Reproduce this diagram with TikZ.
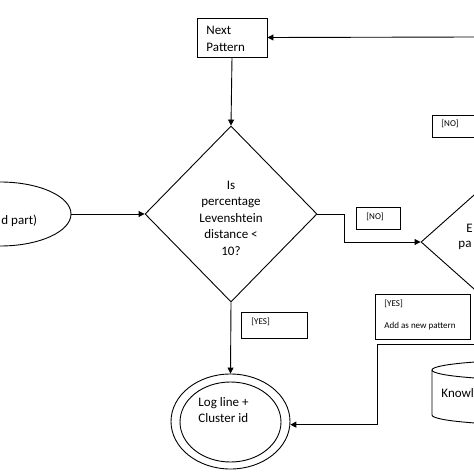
\documentclass[tikz,border=0pt]{standalone}
\usepackage{fontspec}
\setmainfont{Carlito}
\usetikzlibrary{shapes.geometric,arrows.meta}

\begin{document}
\begin{tikzpicture}[x=1pt,y=-1pt,line width=0.9pt,
    box/.style={draw,rectangle,inner sep=0pt},
    tag/.style={font=\fontsize{9}{11}\selectfont,inner sep=0pt,anchor=west},
    txt/.style={font=\fontsize{13}{16.5}\selectfont,inner sep=0pt},
    flow/.style={-{Triangle[length=6pt,width=6pt]}}]
  \useasboundingbox (0,0) rectangle (474,474);
  \clip (0,0) rectangle (474,474);
  \draw
    (232,37.5) node[box,minimum width=70pt,minimum height=39pt] (next){}
    (231,214) node[draw,diamond,inner sep=0pt,minimum width=172pt,minimum height=176pt] (lev){}
    (511,242) node[draw,diamond,inner sep=0pt,minimum width=180pt,minimum height=160pt] (exist){}
    (0,214) node[draw,ellipse,inner sep=0pt,minimum width=142pt,minimum height=64pt] (input){}
    (230.5,421.5) node[draw,ellipse,inner sep=0pt,minimum width=119pt,minimum height=95pt] (out){}
    (230.5,422) node[draw,ellipse,inner sep=0pt,minimum width=101pt,minimum height=80pt] (outin){}
    (378,218) node[box,minimum width=44pt,minimum height=22pt] (nobox){}
    (462,126) node[box,minimum width=60pt,minimum height=22pt] (notop){}
    (274,325) node[box,minimum width=66pt,minimum height=26pt] (yesbox){}
    (422.5,316.5) node[box,minimum width=95pt,minimum height=45pt] (addbox){};
  % knowledge base cylinder, cut by the edge
  \draw (540,370) ellipse [x radius=108, y radius=10];
  \draw (432,370) -- (432,415) arc [start angle=180, end angle=0, x radius=108, y radius=10];
  % texts
  \node[txt,align=left,anchor=west] (nexttxt) at (206,39) {Next\\Pattern};
  \node[txt,align=center] (levtxt) at (231,218) {Is\\percentage\\Levenshtein\\distance <\\10?};
  \node[txt,anchor=west] (exist1) at (466,228) {E};
  \node[txt,anchor=west] (exist2) at (458,245) {pa};
  \node[txt,anchor=west] (intxt) at (1,221) {d part)};
  \node[txt,align=left,anchor=west] (outtxt) at (198,410) {Log line +\\Cluster id};
  \node[txt,anchor=west] (kbtxt) at (441,393) {Knowl};
  \node[tag] (notxt) at (366,217) {[NO]};
  \node[tag] (notoptxt) at (441,124) {[NO]};
  \node[tag] (yestxt) at (251,322) {[YES]};
  \node[tag] (yes2txt) at (384,304) {[YES]};
  \node[tag] (addtxt) at (384,326) {Add as new pattern};
  % connectors
  \coordinate (back) at (474,37);
  \coordinate (added) at (474,344);
  \begin{scope}[flow]
    \draw (back) -- (next.east);
    \draw (next.south) -- (lev.north);
    \draw (input.east) -- (lev.west);
    \draw (lev.east) -- ++(27,0) |- (exist.west);
    \draw (lev.south) -- (out.north);
    \draw (added) -- (377,344) |- (out.-3);
  \end{scope}
\end{tikzpicture}
\end{document}
